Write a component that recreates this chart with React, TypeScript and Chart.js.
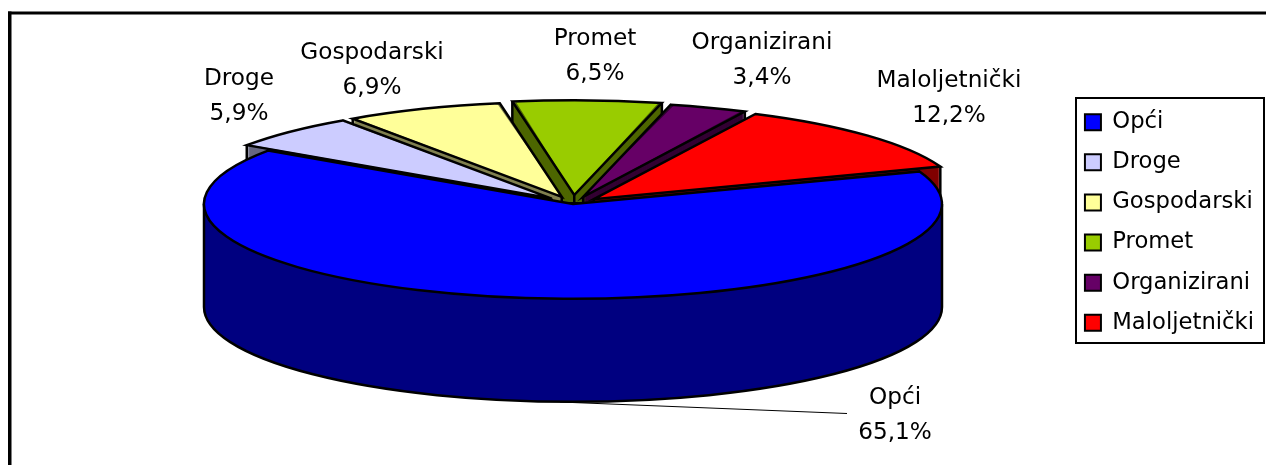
import React, { useEffect, useRef } from "react";
import { Chart, registerables } from "chart.js";

Chart.register(...registerables);

const categories = ["Opći", "Droge", "Gospodarski", "Promet", "Organizirani", "Maloljetnički"];
const shares = [65.1, 5.9, 6.9, 6.5, 3.4, 12.2];
const explode = [0, 120, 120, 140, 120, 112];
const topColors = ["#0000FF", "#CCCCFF", "#FFFF99", "#99CC00", "#660066", "#FF0000"];
const wallColors = ["#000080", "#666680", "#808050", "#4D6600", "#330033", "#800000"];
const paintOrder = [3, 4, 2, 1, 5, 0];
const labelCentres = [
  [895, 415.5],
  [239, 96.5],
  [372, 70.5],
  [595, 56.5],
  [762, 60.5],
  [949, 98.5],
];

const FONT = '"DejaVu Sans", sans-serif';
const LABEL_SIZE = 23.2;
const LEGEND_SIZE = 22.7;
const PIE_X = 573;
const PIE_Y = 204;
const SQUASH = 0.257;
const RADIUS = 369;
const DEPTH = 103;

const TAU = Math.PI * 2;

const pie3d = {
  id: "pie3d",
  beforeDatasetsDraw(chart: any) {
    const { ctx } = chart;
    const arcs = chart.getDatasetMeta(0).data;
    const enter = (arc: any) => {
      ctx.translate(PIE_X, PIE_Y);
      ctx.scale(1, SQUASH);
      ctx.translate(-arc.x, -arc.y);
    };
    const shift = (arc: any) => {
      const mid = (arc.startAngle + arc.endAngle) / 2;
      const d = (arc.options.offset || 0) / 4;
      return [Math.cos(mid) * d, Math.sin(mid) * d];
    };
    const wedge = (arc: any) => {
      const [dx, dy] = shift(arc);
      ctx.beginPath();
      ctx.moveTo(arc.x + dx, arc.y + dy);
      ctx.arc(arc.x + dx, arc.y + dy, arc.outerRadius, arc.startAngle, arc.endAngle);
      ctx.closePath();
    };
    const screen = (arc: any, angle: number | null) => {
      const [dx, dy] = shift(arc);
      const r = angle === null ? 0 : arc.outerRadius;
      const a = angle ?? 0;
      return [PIE_X + dx + Math.cos(a) * r, PIE_Y + SQUASH * (dy + Math.sin(a) * r)];
    };
    const fallsInside = (arc: any, a: number) => {
      const x = Math.cos(a) * arc.outerRadius;
      const y = Math.sin(a) * arc.outerRadius + 5 / SQUASH;
      let t = Math.atan2(y, x);
      while (t < arc.startAngle) t += TAU;
      return t <= arc.endAngle;
    };
    paintOrder.forEach((i) => {
      const arc = arcs[i];
      for (let d = DEPTH; d > 0; d--) {
        ctx.save();
        ctx.translate(0, d);
        enter(arc);
        wedge(arc);
        ctx.restore();
        ctx.fillStyle = wallColors[i];
        ctx.fill();
      }
      ctx.strokeStyle = "#000";
      ctx.lineWidth = 2.5;
      const span = arc.endAngle - arc.startAngle;
      const front = span > Math.PI;
      const a0 = front ? 0 : arc.startAngle;
      const a1 = front ? Math.PI : arc.endAngle;
      ctx.save();
      ctx.translate(0, DEPTH);
      enter(arc);
      const [dx, dy] = shift(arc);
      ctx.beginPath();
      ctx.arc(arc.x + dx, arc.y + dy, arc.outerRadius, a0, a1);
      ctx.restore();
      ctx.stroke();
      const corners: (number | null)[] = front
        ? [0, Math.PI]
        : [arc.startAngle, arc.endAngle, null].filter((a) => a === null || !fallsInside(arc, a));
      corners.forEach((a) => {
        const [x, y] = screen(arc, a);
        ctx.beginPath();
        ctx.moveTo(x, y);
        ctx.lineTo(x, y + DEPTH);
        ctx.stroke();
      });
      ctx.save();
      enter(arc);
      const full = arc.outerRadius;
      const growth = ((arc.options.offset || 0) / 4) * (1 - Math.sin(Math.min(Math.PI, span)));
      arc.outerRadius = full - growth;
      arc.draw(ctx);
      arc.outerRadius = full;
      wedge(arc);
      ctx.restore();
      ctx.lineJoin = "miter";
      ctx.lineWidth = 2.5;
      ctx.stroke();
    });
    return false;
  },
  beforeDraw(chart: any) {
    const { ctx, width, height } = chart;
    ctx.save();
    ctx.fillStyle = "#fff";
    ctx.fillRect(0, 0, width, height);
    ctx.fillStyle = "#000";
    ctx.fillRect(8, 11.5, width, 3);
    ctx.fillRect(8, 11.5, 3.5, height);
    ctx.restore();
  },
  afterDraw(chart: any) {
    const { ctx } = chart;
    ctx.save();
    ctx.strokeStyle = "#000";
    ctx.lineWidth = 2;
    ctx.strokeRect(1076, 98, 188, 245);
    ctx.lineWidth = 1;
    ctx.beginPath();
    ctx.moveTo(560, 402);
    ctx.lineTo(847, 413.5);
    ctx.stroke();
    ctx.fillStyle = "#000";
    ctx.font = `${LABEL_SIZE}px ${FONT}`;
    ctx.textAlign = "center";
    ctx.textBaseline = "middle";
    categories.forEach((name, i) => {
      const [x, y] = labelCentres[i];
      ctx.fillText(name, x, y - 17.5);
      ctx.fillText(`${shares[i].toFixed(1).replace(".", ",")}%`, x, y + 17.5);
    });
    ctx.restore();
  },
};

export default function App() {
  const ref = useRef<HTMLCanvasElement>(null);
  useEffect(() => {
    const chart = new Chart(ref.current as HTMLCanvasElement, {
      type: "pie",
      data: {
        labels: categories,
        datasets: [
          {
            data: shares,
            backgroundColor: topColors,
            borderWidth: 0,
            offset: explode,
            radius: RADIUS,
          } as any,
        ],
      },
      options: {
        responsive: false,
        animation: false,
        events: [],
        rotation: 69.9,
        layout: { padding: { top: 0, bottom: 20, right: 2, left: 0 } },
        plugins: {
          title: { display: false },
          tooltip: { enabled: false },
          legend: {
            display: true,
            position: "right",
            align: "center",
            labels: {
              boxWidth: 16,
              boxHeight: 16,
              padding: 17.4,
              color: "#000",
              font: { family: FONT, size: LEGEND_SIZE, lineHeight: 1 },
              generateLabels: () =>
                categories.map((text, i) => ({
                  text,
                  index: i,
                  fillStyle: topColors[i],
                  strokeStyle: "#000",
                  lineWidth: 2,
                  hidden: false,
                })),
            },
          },
        },
      },
      plugins: [pie3d],
    });
    return () => chart.destroy();
  }, []);
  return (
    <canvas
      ref={ref}
      width={1266}
      height={465}
      style={{ display: "block", position: "fixed", left: 0, top: 0 }}
    />
  );
}
